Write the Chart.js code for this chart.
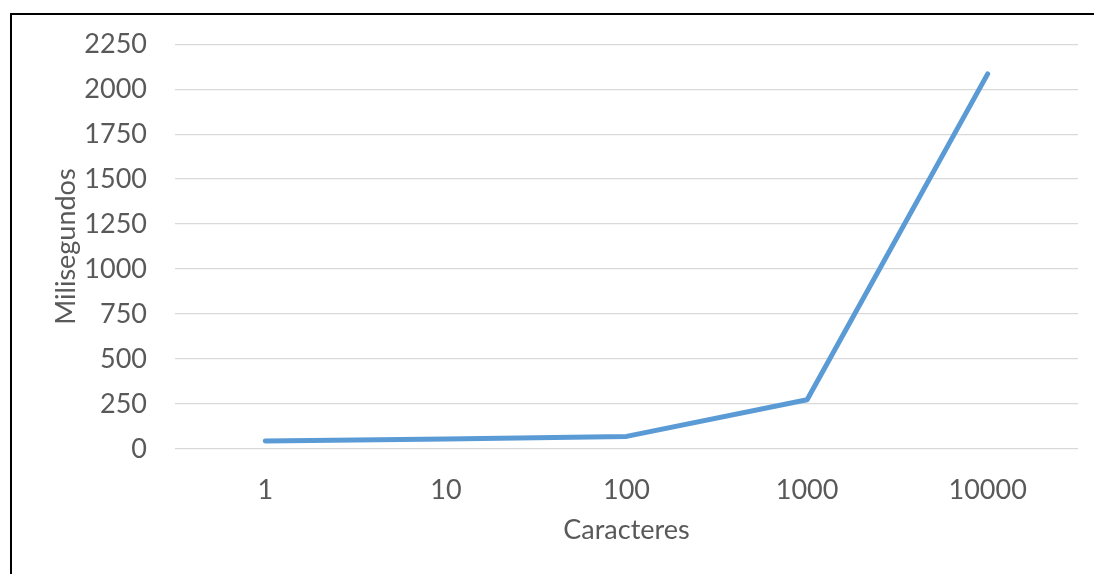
<!DOCTYPE html>
<html>
<head>
<meta charset="utf-8">
<script src="https://cdn.jsdelivr.net/npm/chart.js@4"></script>
<style>
  html, body { margin: 0; padding: 0; background: #fff; overflow: hidden; }
  #frame {
    position: absolute; left: 10px; top: 13px;
    width: 2000px; height: 2000px;
    border-left: 2px solid #000; border-top: 2px solid #000;
  }
  #chart { position: absolute; left: 0; top: 0; }
</style>
</head>
<body>
<div id="frame"></div>
<canvas id="chart" width="1094" height="574"></canvas>
<script>
const categories = ["1", "10", "100", "1000", "10000"];
const tiempos = [45, 55, 70, 274, 2085];
const yMax = 2250;
const yStep = 250;

const font = { family: "Lato, 'Open Sans', sans-serif", size: 27 };
const textColor = "#595959";

const ctx = document.getElementById("chart").getContext("2d");

new Chart(ctx, {
    type: "line",
    data: {
        labels: categories,
        datasets: [{
            data: tiempos,
            borderColor: "#5B9BD5",
            borderWidth: 5,
            borderCapStyle: "round",
            borderJoinStyle: "round",
            pointRadius: 0,
            tension: 0,
            fill: false
        }]
    },
    options: {
        responsive: false,
        animation: false,
        layout: { padding: { left: 50, top: 44, right: 16, bottom: 28 } },
        plugins: { legend: { display: false }, tooltip: { enabled: false } },
        scales: {
            x: {
                offset: true,
                grid: { display: false },
                border: { display: false },
                ticks: { color: textColor, font: font, padding: 17, maxRotation: 0 },
                title: { display: true, text: "Caracteres", color: textColor, font: font, padding: 0 },
                afterFit: (s) => { s.height = 97; }
            },
            y: {
                min: 0,
                max: yMax,
                grid: { color: "#d9d9d9", lineWidth: 1.3, drawTicks: false },
                border: { display: false },
                ticks: {
                    stepSize: yStep, color: textColor, font: font, padding: 28,
                    callback: (v) => String(v)
                },
                title: { display: true, text: "Milisegundos", color: textColor, font: font, padding: 0 },
                afterFit: (s) => { s.width = 125; }
            }
        }
    }
});
</script>
</body>
</html>
